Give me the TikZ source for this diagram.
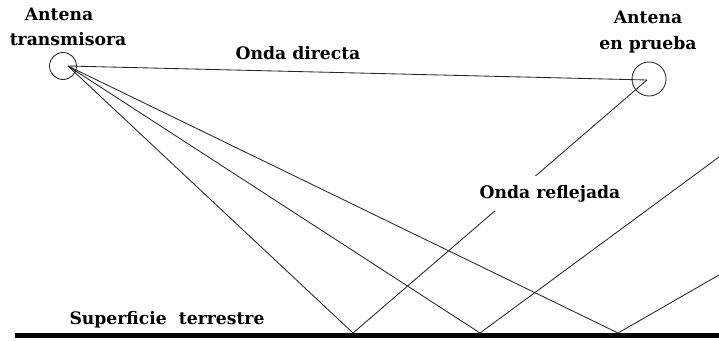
\documentclass[tikz,border=0pt]{standalone}
\usepackage{fontspec}
\setmainfont{DejaVu Serif}
\begin{document}
\begin{tikzpicture}[x=1pt,y=-1pt,
  lbl/.style={font=\fontsize{17.2}{19}\selectfont\bfseries, inner sep=0pt, anchor=base},
  wave/.style={draw=black!85, line width=0.85pt},
  ant/.style={circle, draw=black!85, line width=0.85pt, inner sep=0pt}]
\useasboundingbox (0,0) rectangle (719,340);
% antennas
\node[ant, minimum size=27pt] (tx) at (63,66) {};
\node[ant, minimum size=34pt] (rx) at (649,79) {};
\coordinate (tp) at (68,66);
\coordinate (rp) at (647,80);
% reflection points and exits
\coordinate (g1) at (353,333);
\coordinate (g2) at (480,333);
\coordinate (g3) at (618,333);
\coordinate (e2) at (719,157);
\coordinate (e3) at (719,275);
\coordinate (gl) at (15,335.5);
\coordinate (gr) at (719,335.5);
% waves
\draw[wave] (tp) -- (rp);
\draw[wave] (tp) -- (g1) -- (rp);
\draw[wave] (tp) -- (g2) -- (e2);
\draw[wave] (tp) -- (g3) -- (e3);
% ground
\draw[line width=5pt] (gl) -- (gr);
% labels
\node[lbl] (t1) at (59,20) {Antena};
\node[lbl] (t2) at (68,45) {transmisora};
\node[lbl] (r1) at (648,23) {Antena};
\node[lbl] (r2) at (648,49) {en prueba};
\node[lbl] (od) at (298,59) {Onda directa};
\node[lbl, fill=white, inner xsep=2pt, inner ysep=9pt] (orf) at (550,198) {Onda reflejada};
\node[lbl] (sup) at (167,324) {Superficie\ \ terrestre};
\end{tikzpicture}
\end{document}
